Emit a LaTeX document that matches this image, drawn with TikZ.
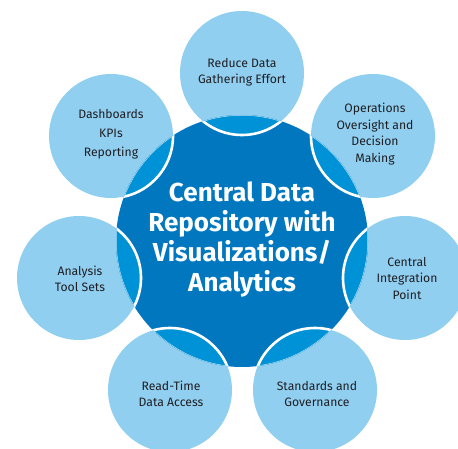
\documentclass[tikz,border=0pt]{standalone}
\usepackage{fontspec}
\setmainfont{Fira Sans}
\definecolor{darkb}{RGB}{0,119,190}
\definecolor{midb}{RGB}{0,146,214}
\definecolor{lightb}{RGB}{145,207,240}
\definecolor{txt}{RGB}{30,30,35}
\begin{document}
\begin{tikzpicture}[x=1pt,y=-1pt,
  sat/.style={circle,fill=lightb,minimum size=124pt,inner sep=0pt},
  sattext/.style={align=center,text=txt,font=\fontsize{12.2}{16.5}\selectfont,inner sep=0pt},
  hub/.style={circle,fill=darkb,minimum size=252pt,inner sep=0pt},
  hubtext/.style={align=center,text=white,font=\fontsize{26}{30}\selectfont\bfseries,inner sep=0pt},
  ring/.style={draw=white,line width=2.6pt},
  faint/.style={draw=lightb!60!white,line width=0.5pt}]
\useasboundingbox (0,0) rectangle (458,449);
\clip (0,0) rectangle (458,449);
% satellites
\node[sat] (s1) at (242,73) {};
\node[sat] (s2) at (111,136) {};
\node[sat] (s3) at (373,136) {};
\node[sat] (s4) at (79,278) {};
\node[sat] (s5) at (405,278) {};
\node[sat] (s6) at (170,390) {};
\node[sat] (s7) at (315,390) {};
% hub
\node[hub] (hub) at (242,241) {};
% lenses
\begin{scope}
  \clip (hub.center) circle (126);
  \foreach \s in {s1,s2,s3,s4,s5,s6,s7}{
    \fill[midb] (\s.center) circle (62);
  }
  \foreach \s in {s1,s2,s3,s4,s5,s6,s7}{
    \draw[ring] (\s.center) circle (62);
  }
\end{scope}
\foreach \s in {s1,s2,s3,s4,s5,s6,s7}{
  \begin{scope}
    \clip (\s.center) circle (62);
    \draw[faint] (hub.center) circle (125.7);
  \end{scope}
}
% texts
\node[hubtext] (ht) at (242,240) {Central Data\\Repository with\\Visualizations/\\Analytics};
\node[sattext] (t1) at (242,72) {Reduce Data\\Gathering Effort};
\node[sattext,font=\fontsize{12.2}{19}\selectfont] (t2) at (111,134) {Dashboards\\KPIs\\Reporting};
\node[sattext] (t3) at (375,134) {Operations\\Oversight and\\Decision\\Making};
\node[sattext] (t4) at (80,279) {Analysis\\Tool Sets};
\node[sattext] (t5) at (407,278) {Central\\Integration\\Point};
\node[sattext] (t6) at (171,394) {Read-Time\\Data Access};
\node[sattext] (t7) at (317,394) {Standards and\\Governance};
\end{tikzpicture}
\end{document}
